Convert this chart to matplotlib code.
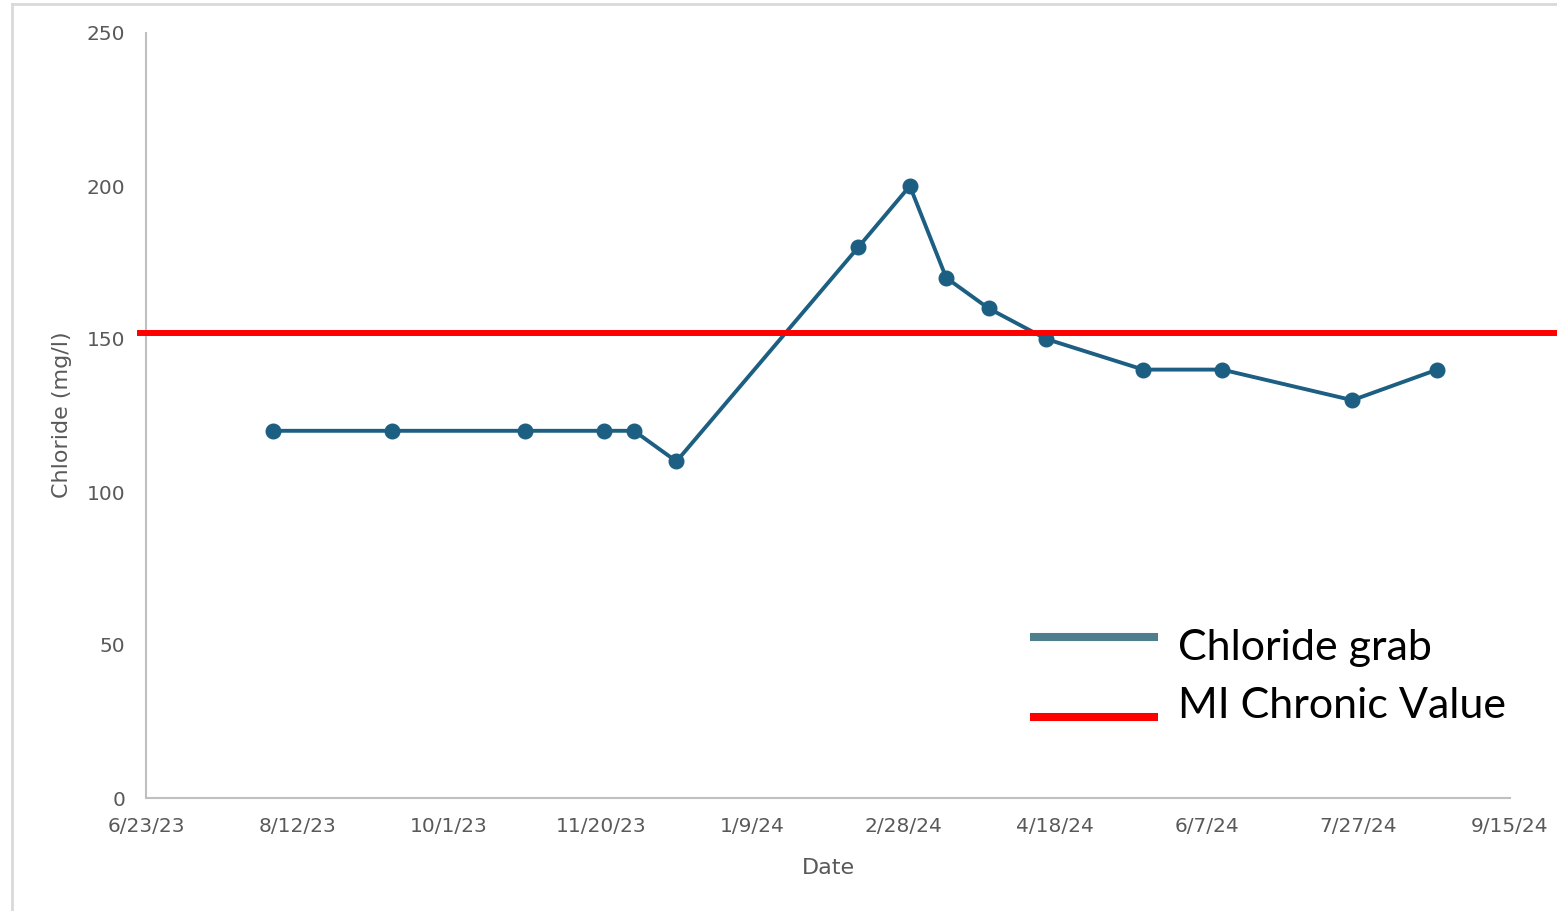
import matplotlib
matplotlib.use("Agg")
import matplotlib.pyplot as plt
import matplotlib.transforms as mtransforms
from matplotlib.lines import Line2D
import pandas as pd

# Chloride grab samples
sample_dates = ["2023-08-04", "2023-09-12", "2023-10-26", "2023-11-21", "2023-12-01",
                "2023-12-15", "2024-02-13", "2024-03-01", "2024-03-13", "2024-03-27",
                "2024-04-15", "2024-05-17", "2024-06-12", "2024-07-25", "2024-08-22"]
chloride_mg_l = [120, 120, 120, 120, 120, 110, 180, 200, 170, 160, 150, 140, 140, 130, 140]

# Michigan chronic water quality value
chronic_value = 152

x_tick_dates = ["2023-06-23", "2023-08-12", "2023-10-01", "2023-11-20", "2024-01-09",
                "2024-02-28", "2024-04-18", "2024-06-07", "2024-07-27", "2024-09-15"]
x_tick_labels = ["6/23/23", "8/12/23", "10/1/23", "11/20/23", "1/9/24",
                 "2/28/24", "4/18/24", "6/7/24", "7/27/24", "9/15/24"]
y_ticks = [0, 50, 100, 150, 200, 250]

W, H = 1557, 911
fig = plt.figure(figsize=(W / 100, H / 100), dpi=100)
ax = fig.add_axes([146 / W, (H - 798) / H, (1510 - 146) / W, (798 - 33) / H])

dates = pd.to_datetime(sample_dates)
ax.plot(dates, chloride_mg_l, color="#1c5f82", lw=2.8, marker="o", ms=10.5,
        solid_joinstyle="round", zorder=3)

tick_dates = pd.to_datetime(x_tick_dates)
ax.set_xlim(tick_dates[0], tick_dates[-1])
ax.set_ylim(0, 250)
ax.set_xticks(tick_dates)
ax.set_xticklabels(x_tick_labels)
ax.set_yticks(y_ticks)

grey = "#595959"
for lab in ax.get_xticklabels() + ax.get_yticklabels():
    lab.set_fontfamily("DejaVu Sans")
    lab.set_fontsize(14.5)
    lab.set_color(grey)
ax.tick_params(axis="both", length=0)
ax.tick_params(axis="x", pad=14)
ax.tick_params(axis="y", pad=15)

for side in ["top", "right"]:
    ax.spines[side].set_visible(False)
for side in ["left", "bottom"]:
    ax.spines[side].set_color("#bfbfbf")
    ax.spines[side].set_linewidth(1.5)

fig.text(828 / W, 1 - 868 / H, "Date", ha="center", va="center",
         family="DejaVu Sans", size=16, color=grey)
fig.text(62 / W, 1 - 415 / H, "Chloride (mg/l)", ha="center", va="center",
         rotation=90, family="DejaVu Sans", size=16, color=grey)

# Chronic value line spanning the panel width
blend = mtransforms.blended_transform_factory(fig.transFigure, ax.transData)
ax.add_line(Line2D([140 / W, 1.0], [chronic_value, chronic_value], transform=blend,
                   color="#ff0000", lw=4.3, clip_on=False, zorder=4))

# Legend
fig.add_artist(Line2D([1030 / W, 1158 / W], [1 - 637 / H, 1 - 637 / H],
                      color="#4f7f8c", lw=5.8, solid_capstyle="butt"))
fig.add_artist(Line2D([1030 / W, 1158 / W], [1 - 717 / H, 1 - 717 / H],
                      color="#ff0000", lw=5.8, solid_capstyle="butt"))
fig.text(1178 / W, 1 - 660 / H, "Chloride grab", ha="left", va="baseline",
         family="Lato", size=31, color="black")
fig.text(1178 / W, 1 - 718 / H, "MI Chronic Value", ha="left", va="baseline",
         family="Lato", size=31, color="black")

# Panel frame (left and top edges)
fig.add_artist(Line2D([12 / W, 12 / W], [0, 1 - 4 / H], color="#d9d9d9", lw=2))
fig.add_artist(Line2D([12 / W, 1.0], [1 - 4 / H, 1 - 4 / H], color="#d9d9d9", lw=2))

fig.savefig("out.png", dpi=100, facecolor="white")
